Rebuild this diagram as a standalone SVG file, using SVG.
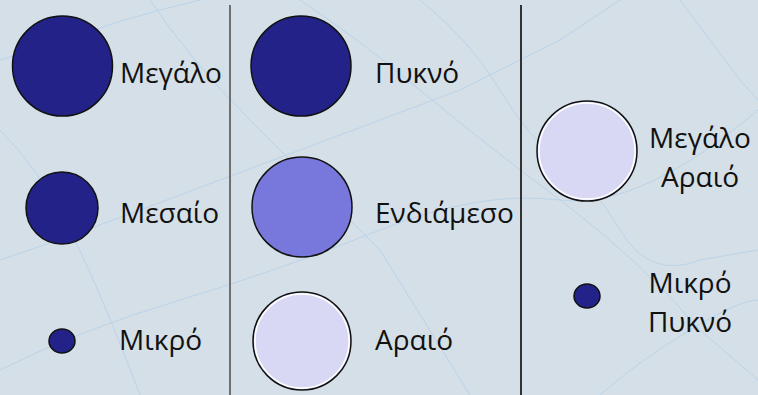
<svg xmlns="http://www.w3.org/2000/svg" width="758" height="395" viewBox="0 0 758 395">
<style>
.dark{fill:#222288;stroke:#111;stroke-width:1.5}
.mid{fill:#7878dc;stroke:#111;stroke-width:1.5}
.light{fill:#d8d8f5;stroke:#111;stroke-width:1.5}
.ring{fill:none;stroke:#fff;stroke-width:1.5}
.t{font-family:"Open Sans","Noto Sans",sans-serif;font-size:28px;fill:#111}
.tc{font-family:"Open Sans","Noto Sans",sans-serif;font-size:28px;fill:#111;text-anchor:middle}
.bg{fill:none;stroke:#b4d0ea;stroke-width:1;opacity:0.8}
</style>
<rect width="758" height="395" fill="#d4dfe7"/>
<g id="texture">
<path class="bg" d="M0 60 Q40 50 80 35 T160 10 L200 0"/>
<path class="bg" d="M150 0 Q190 60 250 120 T380 250 L470 395"/>
<path class="bg" d="M0 260 Q60 240 140 210 T300 150 T460 90 L560 40 L620 0"/>
<path class="bg" d="M0 130 Q40 170 70 230 T140 395"/>
<path class="bg" d="M300 0 Q360 40 420 90 T560 200 T700 330 L758 380"/>
<path class="bg" d="M420 0 Q470 40 500 90 T560 160 T620 230 T700 260 L758 250"/>
<path class="bg" d="M0 370 Q80 330 180 300 T380 230 T560 200 T758 110"/>
<path class="bg" d="M600 395 Q640 360 690 330 T758 300"/>
<path class="bg" d="M680 0 Q710 40 740 80 L758 100"/>
</g>
<g id="dividers">
<line x1="230" y1="5" x2="230" y2="395" stroke="#707070" stroke-width="2"/>
<line x1="521" y1="5" x2="521" y2="395" stroke="#333" stroke-width="2"/>
</g>
<g id="size-large"><circle class="dark" cx="62.5" cy="66" r="50"/><text class="t" x="120" y="83">Μεγάλο</text></g>
<g id="size-medium"><circle class="dark" cx="62" cy="208" r="36"/><text class="t" x="120" y="223">Μεσαίο</text></g>
<g id="size-small"><ellipse class="dark" cx="62" cy="341" rx="13" ry="12"/><text class="t" x="119" y="350">Μικρό</text></g>
<g id="density-dense"><circle class="dark" cx="301" cy="66" r="50"/><text class="t" x="375" y="83">Πυκνό</text></g>
<g id="density-mid"><circle class="mid" cx="302" cy="207" r="50"/><text class="t" x="375" y="223">Ενδιάμεσο</text></g>
<g id="density-sparse"><circle class="light" cx="302" cy="341" r="49"/><circle class="ring" cx="302" cy="341" r="47"/><text class="t" x="375" y="350">Αραιό</text></g>
<g id="large-sparse"><circle class="light" cx="587" cy="151" r="50"/><circle class="ring" cx="587" cy="151" r="48"/><text class="tc" x="700" y="148">Μεγάλο</text><text class="tc" x="700" y="187">Αραιό</text></g>
<g id="small-dense"><ellipse class="dark" cx="587" cy="296" rx="13" ry="12"/><text class="tc" x="690" y="293">Μικρό</text><text class="tc" x="690" y="332">Πυκνό</text></g>
</svg>
